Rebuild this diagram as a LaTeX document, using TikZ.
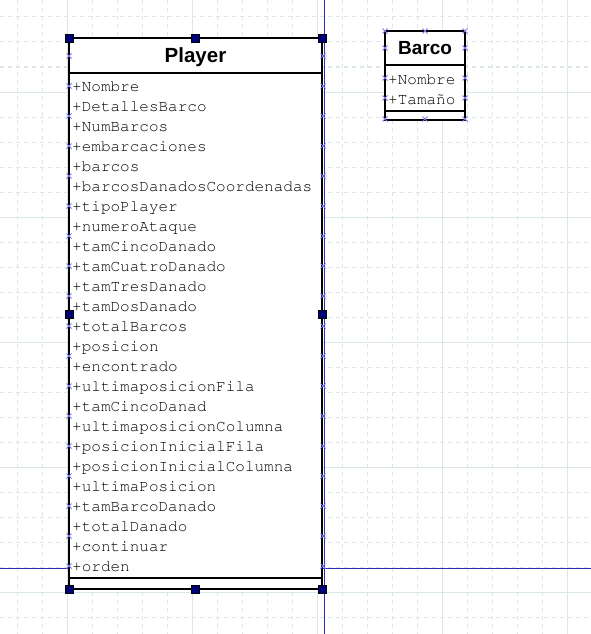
\documentclass[tikz,border=0pt]{standalone}
\usepackage{fontspec}
\setmainfont{Liberation Sans}
\newcommand\courierfont{\fontencoding{T1}\fontfamily{pcr}\selectfont}
\usetikzlibrary{positioning}
\definecolor{gridc}{HTML}{DCE7E7}
\definecolor{guide}{HTML}{2E2EB8}
\definecolor{handle}{HTML}{00007A}
\definecolor{cross}{HTML}{7878EA}
\tikzset{
  minor/.style={draw=gridc, line width=1pt, dash pattern=on 4pt off 4pt},
  major/.style={draw=gridc, line width=1pt},
  guideline/.style={draw=guide, line width=0.9pt},
  box/.style={draw=black, fill=white, line width=2pt},
  sep/.style={draw=black, line width=2pt},
  title/.style={font=\bfseries\fontsize{20.5}{24}\selectfont, inner sep=0pt, anchor=base},
  attr/.style={font=\courierfont\fontsize{16}{18}\selectfont, text=black, inner sep=0pt, anchor=base west},
  grip/.style={draw=black, fill=handle, line width=0.5pt, minimum size=8pt, inner sep=0pt},
  xmark/.style={draw=cross, line width=0.9pt},
}

\begin{document}
\begin{tikzpicture}[x=1pt,y=-1pt]
  \useasboundingbox (0,0) rectangle (591,634);
  % grid
  \foreach \g in {17,42,...,592} \draw[minor] (\g,0) -- (\g,634);
  \foreach \g in {17,42,...,617} \draw[minor] (0,\g) -- (591,\g);
  \foreach \g in {67,192,317,442,567} \draw[major] (\g,0) -- (\g,634);
  \foreach \g in {92,217,342,467,592} \draw[major] (0,\g) -- (591,\g);
  % guides
  \draw[guideline] (324.5,0) -- (324.5,634);
  \draw[guideline] (0,568) -- (591,568);

  % Player
  \coordinate (pNW) at (69,38.5);
  \coordinate (pSE) at (322,589);
  \draw[box] (pNW) rectangle (pSE);
  \draw[sep] (69,73) -- (322,73);
  \draw[sep] (69,578) -- (322,578);
  \node[title] (ptitle) at (195.5,63) {Player};
  \foreach \a [count=\i from 0] in {Nombre,DetallesBarco,NumBarcos,embarcaciones,%
      barcos,barcosDanadosCoordenadas,tipoPlayer,numeroAtaque,tamCincoDanado,%
      tamCuatroDanado,tamTresDanado,tamDosDanado,totalBarcos,posicion,encontrado,%
      ultimaposicionFila,tamCincoDanad,ultimaposicionColumna,posicionInicialFila,%
      posicionInicialColumna,ultimaPosicion,tamBarcoDanado,totalDanado,continuar,orden}
    \node[attr] (pa\i) at (72,{91.5+20*\i}) {+\a};

  % Barco
  \coordinate (bNW) at (385,31);
  \coordinate (bSE) at (465,119.5);
  \draw[box] (bNW) rectangle (bSE);
  \draw[sep] (385,65) -- (465,65);
  \draw[sep] (385,111) -- (465,111);
  \node[title, font=\bfseries\fontsize{19}{22}\selectfont] (btitle) at (425,55) {Barco};
  \node[attr] (ba0) at (388,84) {+Nombre};
  \node[attr] (ba1) at (388,104) {+Tamaño};

  % connection points
  \foreach \y in {56,86,...,566}
    \foreach \x in {69,323}
      \draw[xmark, shift={(\x,\y)}] (-2.5,-2.5) -- (2.5,2.5) (-2.5,2.5) -- (2.5,-2.5);
  \foreach \x/\y in {385/31,425/31,465/31,385/48,465/48,385/78,465/78,
      385/98,465/98,385/119,425/119,465/119}
    \draw[xmark, shift={(\x,\y)}] (-2.5,-2.5) -- (2.5,2.5) (-2.5,2.5) -- (2.5,-2.5);

  % handles
  \foreach \hx/\hy [count=\k] in {69/38.5,195.5/38.5,322/38.5,69/314,322/314,
      69/589,195.5/589,322/589}
    \node[grip] (grip\k) at (\hx,\hy) {};
\end{tikzpicture}
\end{document}
